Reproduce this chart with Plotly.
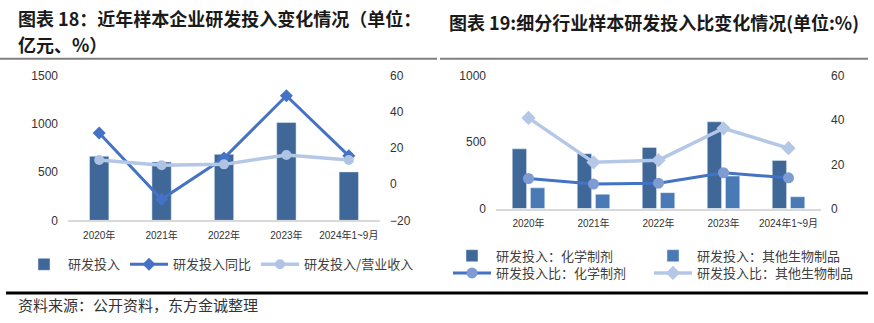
import plotly.graph_objects as go

W, H = 874, 323

# ---- data: chart 18 ----
years = ["2020年", "2021年", "2022年", "2023年", "2024年1~9月"]
rd_invest = [665, 606, 685, 1016, 503]
rd_yoy = [28.4, -8.3, 14.5, 49.0, 15.7]
rd_ratio = [13.4, 10.5, 11.0, 16.2, 13.4]

# ---- data: chart 19 ----
rd_chem = [450, 414, 461, 654, 363]
rd_bio = [156, 108, 120, 245, 89]
ratio_chem = [13.6, 11.1, 11.5, 16.2, 13.9]
ratio_bio = [41.0, 20.9, 21.9, 36.3, 27.3]

title18_l1 = "图表 18：近年样本企业研发投入变化情况（单位："
title18_l2 = "亿元、%）"
title19 = "图表 19:细分行业样本研发投入比变化情况(单位:%)"
source = "资料来源：公开资料，东方金诚整理"

CJK = "Noto Sans CJK SC"
NUM = "Liberation Sans, Noto Sans CJK SC"

C_BAR = "#3F6899"
C_BAR2 = "#4A7AB5"
C_LINE = "#4472C4"
C_LIGHT = "#B4C7E7"
C_CIRC = "#7E9CD1"

def px(x):
    return x / W

def py(y):
    return 1 - y / H

fig = go.Figure()

# chart 18
fig.add_trace(go.Bar(x=years, y=rd_invest, name="研发投入", marker_color=C_BAR,
                     width=0.31, xaxis="x", yaxis="y", legend="legend"))
fig.add_trace(go.Scatter(x=years, y=rd_yoy, name="研发投入同比", mode="lines+markers",
                         line=dict(color=C_LINE, width=3),
                         marker=dict(symbol="diamond", size=10, color=C_LINE),
                         xaxis="x", yaxis="y2", legend="legend"))
fig.add_trace(go.Scatter(x=years, y=rd_ratio, name="研发投入/营业收入", mode="lines+markers",
                         line=dict(color=C_LIGHT, width=3.5),
                         marker=dict(symbol="circle", size=10, color="#AFC3E4"),
                         xaxis="x", yaxis="y2", legend="legend"))

# chart 19
fig.add_trace(go.Bar(x=years, y=rd_chem, name="研发投入：化学制剂", marker_color=C_BAR,
                     width=0.22, offset=-0.25, xaxis="x2", yaxis="y3", legend="legend2"))
fig.add_trace(go.Bar(x=years, y=rd_bio, name="研发投入：其他生物制品", marker_color=C_BAR2,
                     width=0.22, offset=0.03, xaxis="x2", yaxis="y3", legend="legend3"))
fig.add_trace(go.Scatter(x=years, y=ratio_chem, name="研发投入比：化学制剂", mode="lines+markers",
                         line=dict(color=C_LINE, width=3),
                         marker=dict(symbol="circle", size=11, color=C_CIRC),
                         xaxis="x2", yaxis="y4", legend="legend4"))
fig.add_trace(go.Scatter(x=years, y=ratio_bio, name="研发投入比：其他生物制品", mode="lines+markers",
                         line=dict(color=C_LIGHT, width=3.5),
                         marker=dict(symbol="diamond", size=11, color=C_LIGHT),
                         xaxis="x2", yaxis="y4", legend="legend5"))

tickfont = dict(family=NUM, size=12, color="#333333")
xtickfont = dict(family=NUM, size=10, color="#333333")

xcommon = dict(showgrid=False, showline=True, linecolor="#D9D9D9", linewidth=1.5,
               ticks="", tickfont=xtickfont, zeroline=False, fixedrange=True,
               ticklabelstandoff=5)
ycommon = dict(showgrid=False, showline=False, zeroline=False, ticks="",
               tickfont=tickfont, ticklabelstandoff=9, fixedrange=True)

leg_font = dict(family=CJK, size=13, color="#404040")

def legend_at(x, y):
    return dict(x=px(x), y=py(y), xanchor="left", yanchor="middle",
                orientation="h", font=leg_font, bgcolor="rgba(0,0,0,0)",
                itemwidth=38, tracegroupgap=0)

fig.update_layout(
    width=W, height=H,
    margin=dict(l=0, r=0, t=0, b=0),
    paper_bgcolor="white", plot_bgcolor="white",
    barmode="overlay",
    showlegend=True,
    xaxis=dict(domain=[px(68), px(380)], anchor="y", **xcommon),
    yaxis=dict(domain=[py(223), py(72)], range=[0, 1500], tickvals=[0, 500, 1000, 1500],
               anchor="x", side="left", **ycommon),
    yaxis2=dict(overlaying="y", anchor="x", side="right", range=[-20, 60],
                tickvals=[-20, 0, 20, 40, 60], **ycommon),
    xaxis2=dict(domain=[px(496), px(821)], anchor="y3", **xcommon),
    yaxis3=dict(domain=[py(210.7), py(72)], range=[0, 1000], tickvals=[0, 500, 1000],
                anchor="x2", side="left", **ycommon),
    yaxis4=dict(overlaying="y3", anchor="x2", side="right", range=[0, 60],
                tickvals=[0, 20, 40, 60], **ycommon),
    legend=legend_at(20, 269),
    legend2=legend_at(448, 260),
    legend3=legend_at(649, 260),
    legend4=legend_at(448, 278),
    legend5=legend_at(649, 278),
)

title_font = dict(family=CJK, size=18, color="#1a1a1a", weight="bold")
anns = [
    dict(text=title18_l1, x=px(16), y=py(12), xanchor="left", yanchor="middle"),
    dict(text=title18_l2, x=px(16), y=py(39), xanchor="left", yanchor="middle"),
    dict(text=title19, x=px(447), y=py(16), xanchor="left", yanchor="middle"),
]
for a in anns:
    fig.add_annotation(xref="paper", yref="paper", showarrow=False, font=title_font, **a)

fig.add_annotation(text=source, xref="paper", yref="paper", x=px(16), y=py(311),
                   xanchor="left", yanchor="middle", showarrow=False,
                   font=dict(family=CJK, size=15, color="#333333"))

# decorative rules
fig.add_shape(type="line", xref="paper", yref="paper", x0=0, x1=px(437), y0=py(54), y1=py(54),
              line=dict(color="#808080", width=2))
fig.add_shape(type="line", xref="paper", yref="paper", x0=px(440), x1=px(868), y0=py(54), y1=py(54),
              line=dict(color="#808080", width=2))
fig.add_shape(type="line", xref="paper", yref="paper", x0=px(6), x1=px(868), y0=py(299), y1=py(299),
              line=dict(color="#000000", width=3))

fig.write_html("out.html")
